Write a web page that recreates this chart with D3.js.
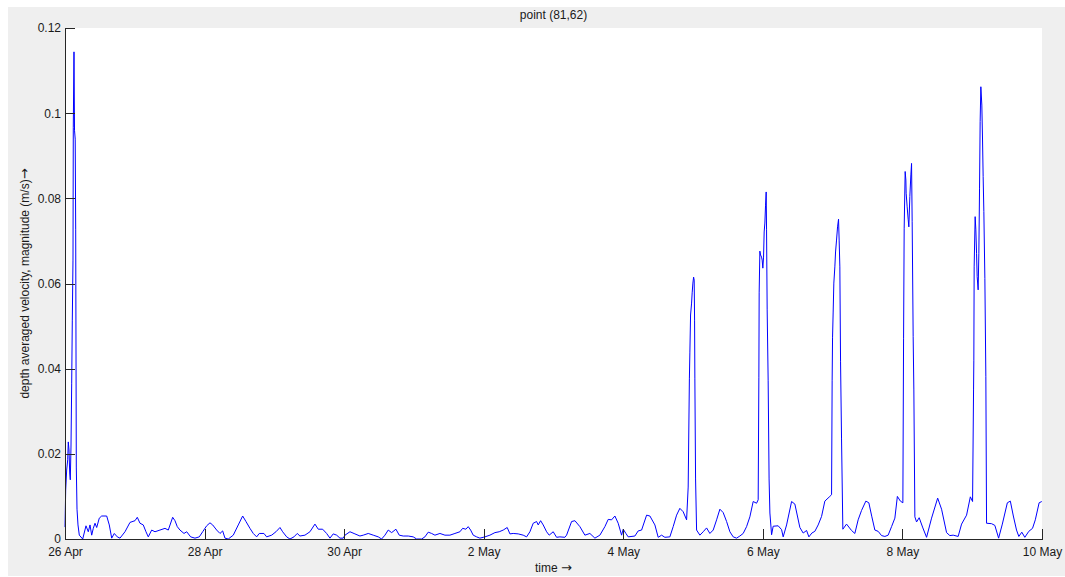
<!DOCTYPE html>
<html>
<head>
<meta charset="utf-8">
<script src="https://cdn.jsdelivr.net/npm/d3@7"></script>
<style>
  html, body { margin: 0; padding: 0; background: #ffffff; }
  svg { display: block; }
  text { font-family: "Liberation Sans", Arial, sans-serif; }
</style>
</head>
<body>
<svg id="chart" width="1065" height="577"></svg>
<script>
// Depth-averaged velocity magnitude at grid point (81,62), 26 Apr - 10 May.
// Time is in hours from 26 Apr 00:00, speed in m/s.
const hours = [
  0.00,0.24,0.58,0.93,1.13,1.38,1.62,1.82,2.06,2.30,2.51,2.75,2.85,3.09,3.27,3.51,3.68,3.89,4.13,4.47,
  4.92,6.09,7.22,8.01,8.60,9.18,9.73,10.32,10.90,11.79,12.62,14.34,15.23,16.06,16.95,17.98,18.91,20.63,22.35,24.07,
  24.86,25.79,26.92,27.85,28.64,29.81,30.95,32.66,34.38,35.52,37.03,37.82,38.61,39.54,40.92,41.85,43.22,44.70,46.18,47.35,
  48.72,49.86,50.79,52.16,53.30,54.22,55.01,56.15,57.87,59.59,61.10,62.24,63.61,64.75,65.91,66.81,68.42,69.35,71.07,72.55,
  73.93,74.85,76.23,77.36,78.74,79.87,80.80,
  82.52,84.24,85.96,87.10,88.61,89.98,91.12,92.25,93.42,94.56,95.69,96.28,98.00,99.71,101.43,102.57,104.29,106.01,107.73,108.89,
  110.03,111.16,112.33,113.81,114.95,116.32,118.04,119.76,120.93,122.65,123.78,124.92,126.09,127.22,128.94,130.66,132.38,134.10,135.82,136.75,
  137.88,138.67,139.50,140.39,141.56,142.69,144.41,146.13,147.85,149.33,150.71,152.08,153.01,154.14,155.86,157.58,158.75,159.89,161.02,162.19,
  162.74,163.57,164.46,165.63,166.52,167.90,169.06,170.20,171.92,172.50,174.22,175.36,177.08,178.80,180.52,182.24,183.95,185.67,186.81,187.98,
  189.11,190.25,191.42,191.97,192.90,193.69,195.99,197.13,198.30,200.02,201.15,202.87,204.00,205.17,206.30,208.02,209.16,210.33,211.46,212.60,
  213.77,
  214.32,214.73,214.90,215.14,215.49,215.69,215.94,216.18,216.38,216.52,216.62,216.86,217.21,218.34,219.48,220.65,221.78,222.92,224.09,225.22,
  226.36,227.53,228.66,229.80,230.97,232.09,233.23,234.40,235.53,236.67,237.84,238.39,
  238.63,238.73,238.97,239.21,239.55,239.76,240.00,240.24,240.45,240.69,240.93,241.14,241.27,241.48,241.82,242.14,242.42,243.00,243.55,245.27,
  246.44,246.99,248.16,249.88,251.01,252.73,253.87,255.04,255.83,256.85,257.88,259.02,260.19,261.32,263.04,263.63,
  263.83,263.97,264.18,264.41,264.76,265.00,265.34,265.69,266.03,266.24,266.48,266.72,267.06,267.51,268.78,270.50,271.64,272.77,273.94,275.42,
  276.45,277.49,278.52,279.65,280.82,281.96,283.09,284.26,285.40,286.26,287.29,288.15,
  288.39,288.60,288.94,289.18,289.28,289.63,289.97,290.21,290.55,290.90,291.14,291.35,291.69,291.93,292.28,292.86,293.76,295.03,296.30,298.02,
  300.12,301.46,303.18,304.31,305.45,307.17,308.34,310.06,311.36,312.12,
  312.46,312.56,312.67,313.01,313.25,313.49,313.70,314.04,314.28,314.52,314.73,314.97,315.31,315.55,315.76,316.00,316.35,316.69,316.93,318.65,
  319.78,321.08,322.36,324.08,325.11,326.14,327.24,328.03,329.06,330.09,331.46,332.74,333.70,335.01,335.93
];

const speed = [
  0.0028,0.0115,0.0162,0.0186,0.0228,0.0209,0.0155,0.0139,0.0216,0.0366,0.0514,0.0655,0.0967,0.1144,0.0960,0.0939,0.0726,0.0169,0.0070,0.0033,
  0.0009,0,0.0031,0.0017,0.0033,0.0009,0.0025,0.0037,0.0027,0.0049,0.0054,0.0054,0.0033,0.0002,0.0013,0.0005,0.0002,0.0017,0.0039,0.0043,
  0.0051,0.0037,0.0033,0.0017,0.0005,0.0021,0.0017,0.0021,0.0025,0.0021,0.0051,0.0043,0.0029,0.0021,0.0013,0.0017,0.0005,0.0002,0.0005,0.0017,
  0.0031,0.0038,0.0033,0.0021,0.0013,0.0019,0.0002,0,0.0009,0.0033,0.0054,0.0041,0.0025,0.0013,0.0005,0.0013,0.0013,0.0005,0.0009,0.0017,
  0.0027,0.0017,0.0005,0,0.0005,0.0013,0.0007,
  0.0009,0.0017,0.0035,0.0023,0.0023,0.0013,0.0002,0.0012,0.0009,0.0002,0.0002,0.0009,0.0017,0.0012,0.0007,0.0009,0.0013,0.0009,0.0005,0,
  0.0009,0.0021,0.0015,0.0023,0.0009,0.0007,0.0007,0.0005,0,0,0.0005,0.0016,0.0013,0.0009,0.0013,0.0009,0.0009,0.0013,0.0017,0.0025,
  0.0023,0.0029,0.0021,0.0009,0.0005,0.0002,0.0005,0.0009,0.0015,0.0017,0.0021,0.0027,0.0012,0.0013,0.0012,0.0009,0.0005,0.0017,0.0037,0.0041,
  0.0033,0.0043,0.0033,0.0017,0.0009,0.0017,0.0004,0.0005,0.0004,0.0009,0.0041,0.0043,0.0029,0.0009,0.0013,0.0002,0.0009,0.0029,0.0046,0.0045,
  0.0054,0.0037,0.0009,0.0023,0.0013,0.0005,0.0007,0.0019,0.0021,0.0056,0.0054,0.0033,0.0004,0.0009,0.0004,0.0005,0.0029,0.0056,0.0072,0.0064,
  0.0045,
  0.0122,0.0376,0.0437,0.0526,0.0554,0.0578,0.0601,0.0615,0.0608,0.0514,0.0376,0.0141,0.0021,0.0009,0.0017,0.0026,0.0013,0.0021,0.0045,0.0070,
  0.0062,0.0041,0.0017,0.0005,0.0002,0.0007,0.0013,0.0029,0.0052,0.0088,0.0084,0.0092,
  0.0380,0.0578,0.0676,0.0667,0.0662,0.0655,0.0636,0.0662,0.0721,0.0742,0.0784,0.0815,0.0726,0.0538,0.0373,0.0141,0.0061,0.0010,0.0030,0.0031,
  0.0022,0.0005,0.0033,0.0088,0.0082,0.0027,0.0014,0.0020,0.0005,0.0014,0.0018,0.0033,0.0053,0.0089,0.0100,0.0104,
  0.0373,0.0474,0.0533,0.0601,0.0639,0.0674,0.0702,0.0733,0.0751,0.0702,0.0639,0.0416,0.0235,0.0023,0.0035,0.0020,0.0013,0.0045,0.0067,0.0089,
  0.0085,0.0052,0.0021,0.0018,0.0008,0.0006,0.0009,0.0029,0.0049,0.0100,0.0089,0.0085,
  0.0470,0.0730,0.0863,0.0843,0.0812,0.0780,0.0751,0.0733,0.0804,0.0855,0.0882,0.0745,0.0475,0.0350,0.0052,0.0040,0.0050,0.0026,0.0004,0.0049,
  0.0096,0.0070,0.0015,0.0008,0.0009,0.0006,0.0035,0.0056,0.0099,0.0088,
  0.0350,0.0420,0.0639,0.0757,0.0726,0.0671,0.0616,0.0585,0.0671,0.0824,0.0980,0.1062,0.1019,0.0937,0.0851,0.0769,0.0612,0.0381,0.0037,0.0036,
  0.0032,0.0002,0.0035,0.0085,0.0089,0.0054,0.0021,0.0006,0.0016,0.0004,0.0018,0.0025,0.0045,0.0085,0.0088
];

// Axis ticks
const xTickHours  = [0, 48, 96, 144, 192, 240, 288, 336];
const xTickLabels = ["26 Apr", "28 Apr", "30 Apr", "2 May", "4 May", "6 May", "8 May", "10 May"];
const yTickValues = [0, 0.02, 0.04, 0.06, 0.08, 0.1, 0.12];
const yTickLabels = ["0", "0.02", "0.04", "0.06", "0.08", "0.1", "0.12"];

const titleText  = "point (81,62)";
const xLabelText = "time ";
const yLabelText = "depth averaged velocity, magnitude (m/s)";
const arrowGlyph = "\u2192";

// Layout
const W = 1065, H = 577;
const plot = { left: 65, right: 1042, top: 28, bottom: 539 };

const svg = d3.select("#chart");

// Figure background and white axes area
svg.append("rect").attr("x", 8).attr("y", 7).attr("width", W - 8).attr("height", H - 8)
  .attr("fill", "#efefef");
svg.append("rect").attr("x", plot.left).attr("y", plot.top)
  .attr("width", plot.right - plot.left).attr("height", plot.bottom - plot.top)
  .attr("fill", "#ffffff");

const x = d3.scaleLinear().domain([0, 336]).range([plot.left, plot.right]);
const y = d3.scaleLinear().domain([0, 0.12]).range([plot.bottom, plot.top]);

const series = hours.map((h, i) => ({ h, v: speed[i] }));

// Velocity trace
svg.append("path")
  .datum(series)
  .attr("fill", "none")
  .attr("stroke", "#0000ff")
  .attr("stroke-width", 1)
  .attr("stroke-linejoin", "miter")
  .attr("d", d3.line().x(d => x(d.h)).y(d => y(d.v)));

// Axes: ticks point inward, no box
const axisColor = "#262626";
const yAxis = svg.append("g")
  .attr("transform", `translate(${plot.left},0)`)
  .call(d3.axisLeft(y)
    .tickValues(yTickValues)
    .tickFormat((d, i) => yTickLabels[i])
    .tickSizeInner(-10)
    .tickSizeOuter(0)
    .tickPadding(4));

const xAxis = svg.append("g")
  .attr("transform", `translate(0,${plot.bottom})`)
  .call(d3.axisBottom(x)
    .tickValues(xTickHours)
    .tickFormat((d, i) => xTickLabels[i])
    .tickSizeInner(-10)
    .tickSizeOuter(0)
    .tickPadding(8));

[yAxis, xAxis].forEach(g => {
  g.select(".domain").attr("stroke", axisColor).attr("shape-rendering", "crispEdges");
  g.selectAll(".tick line").attr("stroke", axisColor).attr("shape-rendering", "crispEdges");
  g.selectAll(".tick text")
    .attr("fill", "#1a1a1a")
    .style("font-family", '"Liberation Sans", Arial, sans-serif')
    .style("font-size", "12px");
});

// Title and axis labels (arrows set in DejaVu Sans for a fuller glyph)
svg.append("text")
  .attr("x", (plot.left + plot.right) / 2).attr("y", 19)
  .attr("text-anchor", "middle")
  .attr("fill", "#1a1a1a")
  .style("font-size", "12px")
  .text(titleText);

const xLabel = svg.append("text")
  .attr("x", (plot.left + plot.right) / 2).attr("y", 572)
  .attr("text-anchor", "middle")
  .attr("fill", "#1a1a1a")
  .style("font-size", "12px");
xLabel.append("tspan").text(xLabelText);
xLabel.append("tspan").style("font-family", '"DejaVu Sans", sans-serif').style("font-size", "13px").text(arrowGlyph);

const yLabel = svg.append("text")
  .attr("transform", `translate(29,${(plot.top + plot.bottom) / 2}) rotate(-90)`)
  .attr("text-anchor", "middle")
  .attr("fill", "#1a1a1a")
  .style("font-size", "12px");
yLabel.append("tspan").text(yLabelText);
yLabel.append("tspan").style("font-family", '"DejaVu Sans", sans-serif').style("font-size", "13px").text(arrowGlyph);
</script>
</body>
</html>
